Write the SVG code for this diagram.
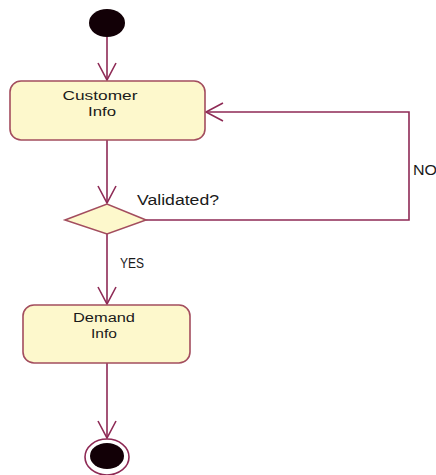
<svg xmlns="http://www.w3.org/2000/svg" width="436" height="475" viewBox="0 0 436 475">
  <style>
    .flow { fill: none; stroke: #8e2a55; stroke-width: 1.6; }
    .act { fill: #fdf8cc; stroke: #a34d5e; stroke-width: 1.6; }
    .lbl { font-family: "Liberation Sans", Arial, sans-serif; font-size: 14px; fill: #1a1a1a; }
    .inner { font-size: 12.5px; }
    .mid { text-anchor: middle; }
  </style>
  <defs>
    <marker id="open-arrow" markerUnits="userSpaceOnUse" markerWidth="24" markerHeight="24" viewBox="-20 -12 24 24" refX="0" refY="0" orient="auto">
      <path d="M -17 -9 L 0 0 L -17 9" fill="none" stroke="#8e2a55" stroke-width="1.6"/>
    </marker>
  </defs>

  <!-- control flows -->
  <g id="connectors">
    <path class="flow" d="M 107 37 L 107 80" marker-end="url(#open-arrow)"/>
    <path class="flow" d="M 107 140 L 107 203" marker-end="url(#open-arrow)"/>
    <path class="flow" d="M 145 220 L 409 220 L 409 112 L 206 112" marker-end="url(#open-arrow)"/>
    <path class="flow" d="M 107 234 L 107 304" marker-end="url(#open-arrow)"/>
    <path class="flow" d="M 107 363 L 107 438" marker-end="url(#open-arrow)"/>
    <text class="lbl" x="413" y="175" textLength="24" lengthAdjust="spacingAndGlyphs">NO</text>
    <text class="lbl" x="120" y="268" textLength="24" lengthAdjust="spacingAndGlyphs">YES</text>
  </g>

  <!-- initial node -->
  <g id="start">
    <ellipse cx="107" cy="23" rx="18" ry="14" fill="#120006"/>
  </g>

  <!-- activity: Customer Info -->
  <g id="customer-info">
    <rect class="act" x="10" y="81" width="195" height="59" rx="11" ry="11"/>
    <text class="lbl inner mid" x="100" y="100" textLength="75" lengthAdjust="spacingAndGlyphs">Customer</text>
    <text class="lbl inner mid" x="102" y="116" textLength="28" lengthAdjust="spacingAndGlyphs">Info</text>
  </g>

  <!-- decision -->
  <g id="validated">
    <polygon class="act" points="65,220 107,204 146,220 107,234"/>
    <text class="lbl" x="137" y="205" textLength="82" lengthAdjust="spacingAndGlyphs">Validated?</text>
  </g>

  <!-- activity: Demand Info -->
  <g id="demand-info">
    <rect class="act" x="23" y="305" width="167" height="58" rx="11" ry="11"/>
    <text class="lbl inner mid" x="104" y="322" textLength="62" lengthAdjust="spacingAndGlyphs">Demand</text>
    <text class="lbl inner mid" x="104" y="338" textLength="26" lengthAdjust="spacingAndGlyphs">Info</text>
  </g>

  <!-- final node -->
  <g id="end">
    <ellipse cx="107" cy="457" rx="22" ry="18" fill="#ffffff" stroke="#8e2a55" stroke-width="1.6"/>
    <ellipse cx="107" cy="456" rx="17" ry="13" fill="#120006"/>
  </g>
</svg>
